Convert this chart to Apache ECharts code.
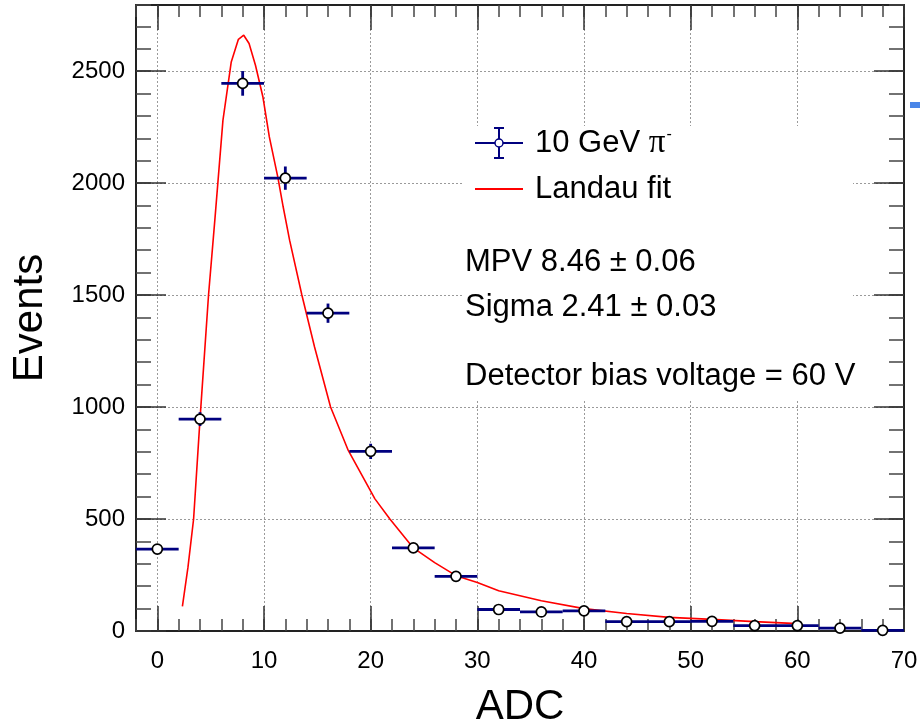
<!DOCTYPE html>
<html>
<head>
<meta charset="utf-8">
<script src="https://cdn.jsdelivr.net/npm/echarts@6/dist/echarts.min.js"></script>
<style>
html,body{margin:0;padding:0;background:#fff;}
#chart{width:920px;height:724px;}
</style>
</head>
<body>
<div id="chart"></div>
<script>
// ---- data ----
const adcBins   = [0, 4, 8, 12, 16, 20, 24, 28, 32, 36, 40, 44, 48, 52, 56, 60, 64, 68];
const events    = [366, 946, 2445, 2022, 1419, 802, 371, 244, 96, 85, 90, 42, 42, 43, 24, 24, 13, 3];
const eventErr  = [19, 31, 55, 52, 43, 34, 19, 16, 10, 9, 10, 6, 6, 7, 5, 5, 4, 2];
const binWidth  = 4;

const fitX = [2.35, 2.87, 3.4, 4.0, 4.8, 5.4, 6.15, 6.93, 7.6, 8.1, 8.6, 9.2, 9.9, 10.5, 11.3, 11.8, 12.4, 13.55, 14.74, 16.24, 17.9, 20.4, 21.8, 24, 26, 28, 30, 32, 36, 40, 44, 48, 52, 56, 60];
const fitY = [110, 284, 500, 945, 1500, 1840, 2280, 2541, 2642, 2660, 2623, 2526, 2384, 2206, 2025, 1893, 1745, 1500, 1268, 1000, 806, 590, 500, 371, 305, 247, 217, 180, 135, 100, 78, 61, 52, 42, 33];

const xMajorTicks = [0, 10, 20, 30, 40, 50, 60, 70];
const yMajorTicks = [0, 500, 1000, 1500, 2000, 2500];
const xGridLines  = [0, 10, 20, 30, 40, 50, 60];
const yGridLines  = [500, 1000, 1500, 2000, 2500];

const xRange = [-2, 70];
const yRange = [0, 2795];

const seriesName = '10 GeV π⁻';
const fitName = 'Landau fit';
const infoLines = ['MPV 8.46 ± 0.06', 'Sigma 2.41 ± 0.03', 'Detector bias voltage = 60 V'];

// ---- chart ----
const chart = echarts.init(document.getElementById('chart'), null, {renderer: 'canvas'});
const FONT = 'Liberation Sans, Arial, Helvetica, sans-serif';
const NAVY = '#00007f';
const FRAME = '#222';

function xAxisDef(pos, major, showLine, showLabel) {
  return {
    type: 'value', position: pos, min: xRange[0], max: xRange[1],
    interval: 2,
    axisLine: {show: showLine, onZero: false, lineStyle: {color: FRAME, width: 2}},
    axisTick: major
      ? {show: true, inside: true, length: 25, customValues: xMajorTicks, lineStyle: {color: '#333', width: 1.5}}
      : {show: true, inside: true, length: 12, lineStyle: {color: '#444', width: 1.5}},
    axisLabel: showLabel
      ? {show: true, fontFamily: FONT, fontSize: 24, color: '#000', margin: 18,
         formatter: v => (v % 10 === 0 && v >= 0) ? String(v) : ''}
      : {show: false},
    splitLine: {show: false},
    name: showLabel ? 'ADC' : '',
    nameLocation: 'middle', nameGap: 55,
    nameTextStyle: {fontFamily: FONT, fontSize: 42, color: '#000'}
  };
}
function yAxisDef(pos, major, showLine, showLabel) {
  return {
    type: 'value', position: pos, min: yRange[0], max: yRange[1],
    interval: 100,
    axisLine: {show: showLine, onZero: false, lineStyle: {color: FRAME, width: 2}},
    axisTick: major
      ? {show: true, inside: true, length: 30, customValues: yMajorTicks, lineStyle: {color: '#333', width: 1.5}}
      : {show: true, inside: true, length: 15, lineStyle: {color: '#444', width: 1.5}},
    axisLabel: showLabel
      ? {show: true, fontFamily: FONT, fontSize: 24, color: '#000', margin: 11,
         formatter: v => (v % 500 === 0) ? String(v) : ''}
      : {show: false},
    splitLine: {show: false},
    name: showLabel ? 'Events' : '',
    nameLocation: 'middle', nameGap: 85, nameRotate: 90,
    nameTextStyle: {fontFamily: FONT, fontSize: 42, color: '#000'}
  };
}

const pointData = adcBins.map((x, i) => [x, events[i], eventErr[i]]);
const fitData = fitX.map((x, i) => [x, fitY[i]]);

const G = {zlevel: 1};
const option = {
  animation: false,
  backgroundColor: '#fff',
  grid: {left: 136, right: 16, top: 5, bottom: 93, containLabel: false, outerBoundsMode: 'none'},
  xAxis: [
    xAxisDef('bottom', false, true, true),
    xAxisDef('bottom', true, false, false),
    xAxisDef('top', false, true, false),
    xAxisDef('top', true, false, false)
  ],
  yAxis: [
    yAxisDef('left', false, true, true),
    yAxisDef('left', true, false, false),
    yAxisDef('right', false, true, false),
    yAxisDef('right', true, false, false)
  ],
  series: [
    {
      type: 'line', name: 'grid', data: [], z: 0, silent: true,
      markLine: {
        silent: true, symbol: 'none', label: {show: false}, z: 0,
        lineStyle: {color: '#9a9a9a', type: [2, 2], width: 1},
        data: xGridLines.map(v => ({xAxis: v})).concat(yGridLines.map(v => ({yAxis: v})))
      }
    },
    {
      type: 'line', name: fitName, data: fitData, z: 3,
      showSymbol: false, symbol: 'none', smooth: false,
      lineStyle: {color: '#ff0000', width: 1.6}
    },
    {
      type: 'custom', name: seriesName, data: pointData, z: 4,
      renderItem: function (params, api) {
        const x = api.value(0), y = api.value(1), e = api.value(2);
        const pL = api.coord([x - binWidth / 2, y]);
        const pR = api.coord([x + binWidth / 2, y]);
        const pT = api.coord([x, y + e]);
        const pB = api.coord([x, Math.max(y - e, 0)]);
        const st = {stroke: NAVY, lineWidth: 2.8};
        return {type: 'group', children: [
          {type: 'line', shape: {x1: pL[0], y1: pL[1], x2: pR[0], y2: pR[1]}, style: st},
          {type: 'line', shape: {x1: pT[0], y1: pT[1], x2: pB[0], y2: pB[1]}, style: st}
        ]};
      }
    },
    {
      type: 'scatter', name: seriesName + ' pts', data: pointData.map(d => [d[0], d[1]]), z: 5,
      symbol: 'circle', symbolSize: 10,
      itemStyle: {color: '#ffffff', opacity: 1, borderColor: '#000', borderWidth: 1.7}
    }
  ],
  graphic: [
    Object.assign({type: 'rect', z: 1, silent: true, shape: {x: 462, y: 126, width: 391, height: 274}, style: {fill: '#fff'}}, G),
    // legend entry: data
    Object.assign({type: 'line', z: 2, shape: {x1: 475, y1: 143, x2: 523, y2: 143}, style: {stroke: NAVY, lineWidth: 2}}, G),
    Object.assign({type: 'line', z: 2, shape: {x1: 499, y1: 128, x2: 499, y2: 158}, style: {stroke: NAVY, lineWidth: 2}}, G),
    Object.assign({type: 'line', z: 2, shape: {x1: 494, y1: 128, x2: 504, y2: 128}, style: {stroke: NAVY, lineWidth: 2}}, G),
    Object.assign({type: 'line', z: 2, shape: {x1: 494, y1: 158, x2: 504, y2: 158}, style: {stroke: NAVY, lineWidth: 2}}, G),
    Object.assign({type: 'circle', z: 3, shape: {cx: 499, cy: 143, r: 4}, style: {fill: '#fff', stroke: NAVY, lineWidth: 1.5}}, G),
    Object.assign({type: 'text', z: 2, x: 535, y: 143, style: {
      text: '10 GeV {pi|π}{sup|-}', fontFamily: FONT, fontSize: 31, fill: '#000', verticalAlign: 'middle',
      rich: {
        pi: {fontFamily: 'Liberation Serif, DejaVu Serif, serif', fontSize: 33, fill: '#000'},
        sup: {fontFamily: FONT, fontSize: 16, fill: '#000', verticalAlign: 'top', padding: [0, 0, 14, 1]}
      }
    }}, G),
    // legend entry: fit
    Object.assign({type: 'line', z: 2, shape: {x1: 475, y1: 189, x2: 523, y2: 189}, style: {stroke: '#ff0000', lineWidth: 2}}, G),
    Object.assign({type: 'text', z: 2, x: 535, y: 189, style: {text: fitName, fontFamily: FONT, fontSize: 31, fill: '#000', verticalAlign: 'middle'}}, G),
    // info text
    Object.assign({type: 'text', z: 2, x: 465, y: 262, style: {text: infoLines[0], fontFamily: FONT, fontSize: 31, fill: '#000', verticalAlign: 'middle'}}, G),
    Object.assign({type: 'text', z: 2, x: 465, y: 307, style: {text: infoLines[1], fontFamily: FONT, fontSize: 31, fill: '#000', verticalAlign: 'middle'}}, G),
    Object.assign({type: 'text', z: 2, x: 465, y: 376, style: {text: infoLines[2], fontFamily: FONT, fontSize: 31, fill: '#000', verticalAlign: 'middle'}}, G),
    // small blue artifact at right edge
    Object.assign({type: 'rect', z: 2, shape: {x: 910, y: 102, width: 10, height: 6}, style: {fill: '#4a86e8'}}, G)
  ]
};
chart.setOption(option);
</script>
</body>
</html>
